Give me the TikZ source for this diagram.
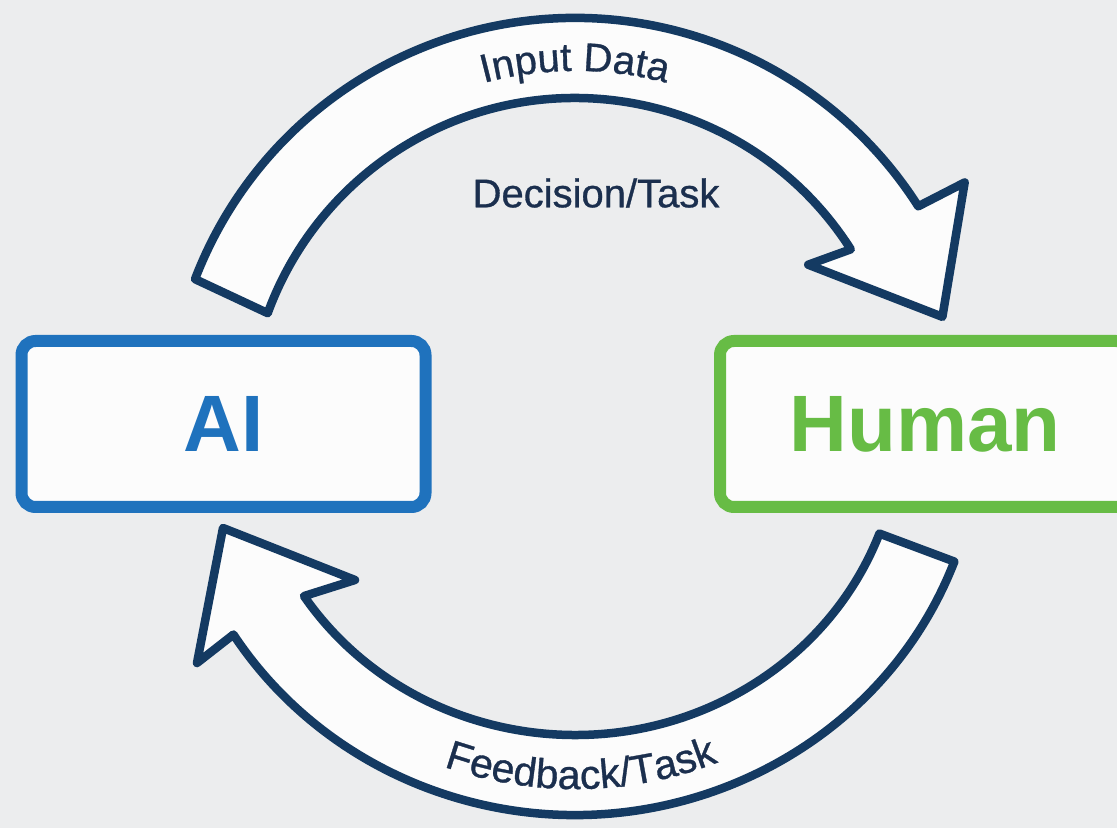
\documentclass[tikz,border=0pt]{standalone}
\usepackage{fontspec}
\setmainfont{Liberation Sans}
\newfontfamily\medfont{Liberation Sans}[FakeBold=0.8]
\usetikzlibrary{decorations.text}
\definecolor{bgc}{HTML}{ECEDEE}
\definecolor{aiblue}{HTML}{1F72BD}
\definecolor{hgreen}{HTML}{67BC45}
\definecolor{navy}{HTML}{143A62}
\definecolor{navytext}{HTML}{1B2F4E}
\definecolor{boxfill}{HTML}{FCFCFC}
\tikzset{
  labelbox/.style={rectangle, rounded corners=14pt, line width=12pt, fill=boxfill,
    minimum height=166pt, inner sep=0pt, font=\bfseries\fontsize{80}{90}\selectfont},
  blockarrow/.style={draw=navy, line width=8.5pt, fill=boxfill, line join=round},
  plainlabel/.style={text=navytext, font=\medfont\fontsize{40}{48}\selectfont, inner sep=0pt}
}
\begin{document}
\begin{tikzpicture}[x=1pt,y=1pt]
\useasboundingbox (0,0) rectangle (1117,828);
\fill[bgc] (0,0) rectangle (1117,828);
\begin{scope}
\clip (0,0) rectangle (1117,828);
% boxes
\node[labelbox, draw=aiblue, text=aiblue, minimum width=404pt] (ai) at (223.5,404) {AI};
\node[labelbox, draw=hgreen, text=hgreen, minimum width=410pt] (human) at (925,404) {Human};
% block arrows around centre
\begin{scope}[shift={(575,403)}]
  % top arrow: AI -> Human
  \draw[blockarrow] (159:407) arc[start angle=159, end angle=32.5, radius=407]
    -- (31.9:459) -- (16.4:383) -- (34.5:283) -- (32.5:327)
    arc[start angle=32.5, end angle=160, radius=327] -- cycle;
  % bottom arrow: Human -> AI
  \draw[blockarrow] (-20.5:405 and 390) arc[start angle=-20.5, end angle=-147.5, x radius=405, y radius=390]
    -- (-378,-238) -- (-352,-103) -- (-220,-155) -- (-146.5:325 and 310)
    arc[start angle=-146.5, end angle=-20.5, x radius=325, y radius=310] -- cycle;
  % curved labels
  \path[decorate, decoration={text along path, text align=center,
      text={|\medfont\fontsize{40}{48}\selectfont\color{navytext}|Input Data}}]
    (150:354) arc[start angle=150, end angle=30, radius=354];
  \path[decorate, decoration={text along path, text align=center,
      text={|\medfont\fontsize{41}{48}\selectfont\color{navytext}|Feedback/Task}}]
    (211:380 and 364) arc[start angle=211, end angle=331, x radius=380, y radius=364];
\end{scope}
\node[plainlabel] (dec) at (596,635) {Decision/Task};
\end{scope}
\end{tikzpicture}
\end{document}
